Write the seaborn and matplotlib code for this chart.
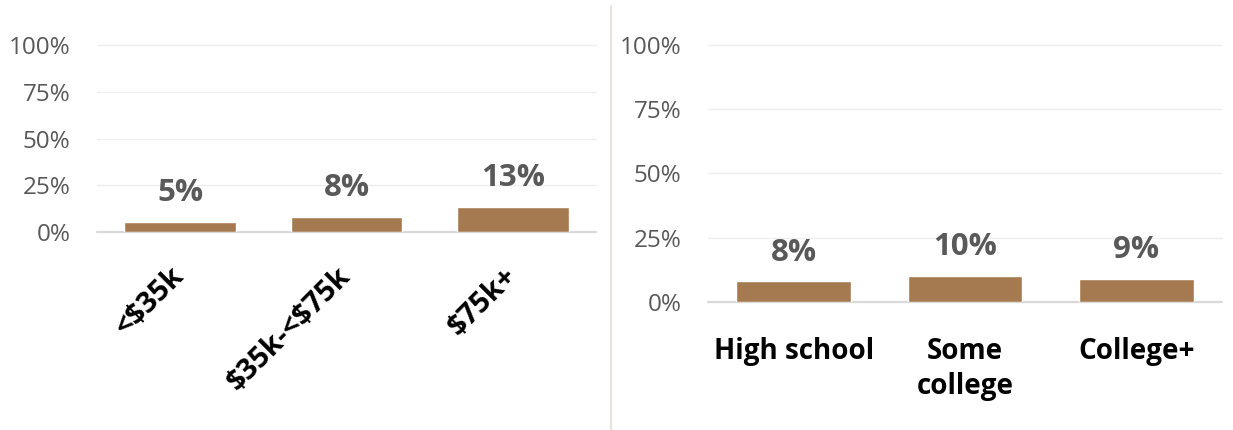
import matplotlib
matplotlib.use("Agg")
import matplotlib.pyplot as plt
import seaborn as sns
import pandas as pd
from matplotlib.lines import Line2D

# Share by household income
income_groups = ["<$35k", "$35k-<$75k", "$75k+"]
income_values = [5, 8, 13]

# Share by education
education_groups = ["High school", "Some\ncollege", "College+"]
education_values = [8, 10, 9]

y_ticks = [0, 25, 50, 75, 100]
y_tick_labels = ["0%", "25%", "50%", "75%", "100%"]

BAR = "#A67A50"
LABEL_GREY = "#595959"
GRID = "#EFEFEF"
BASE = "#D9D9D9"

sns.set_theme(style="white")
plt.rcParams["font.family"] = ["Open Sans", "DejaVu Sans"]

fig = plt.figure(figsize=(12.33, 4.30), dpi=100)
ax_l = fig.add_axes([0.0787, 0.4616, 0.4047, 0.4326])
ax_r = fig.add_axes([0.5742, 0.2977, 0.4169, 0.5977])


def draw(ax, cats, vals, rotate):
    df = pd.DataFrame({"group": cats, "value": vals})
    sns.barplot(data=df, x="group", y="value", color=BAR, width=0.67,
                saturation=1, ax=ax, zorder=3)
    ax.set_ylim(0, 100)
    ax.set_yticks(y_ticks)
    ax.set_yticklabels(y_tick_labels, fontsize=17.5, color=LABEL_GREY)
    for t in y_ticks:
        ax.axhline(t, color=BASE if t == 0 else GRID, lw=1.6 if t == 0 else 1.0,
                   zorder=1, clip_on=False)
    for s in ax.spines.values():
        s.set_visible(False)
    ax.tick_params(axis="y", length=0, pad=19)
    ax.tick_params(axis="x", length=0)
    ax.set_xlabel("")
    ax.set_ylabel("")
    for i, v in enumerate(vals):
        ax.annotate(f"{v}%", (i, v), xytext=(0, 10), textcoords="offset points",
                    ha="center", va="bottom", fontsize=22.5, fontweight="bold",
                    color=LABEL_GREY)
    ax.set_xticks(range(len(cats)))
    if rotate:
        ax.set_xticklabels(cats, rotation=45, ha="right", va="center",
                           rotation_mode="anchor", fontsize=21,
                           fontweight="bold", color="black", parse_math=False)
        ax.tick_params(axis="x", pad=29)
    else:
        ax.set_xticklabels(cats, fontsize=20, fontweight="bold", color="black",
                           linespacing=1.3, parse_math=False)
        ax.tick_params(axis="x", pad=25)


draw(ax_l, income_groups, income_values, rotate=True)
draw(ax_r, education_groups, education_values, rotate=False)

# Divider between the two panels
fig.add_artist(Line2D([611 / 1233, 611 / 1233], [0.0, 1 - 6 / 430],
                      transform=fig.transFigure, color="#EDE3DA", lw=1.5))

fig.savefig("out.png", dpi=100, facecolor="white")
